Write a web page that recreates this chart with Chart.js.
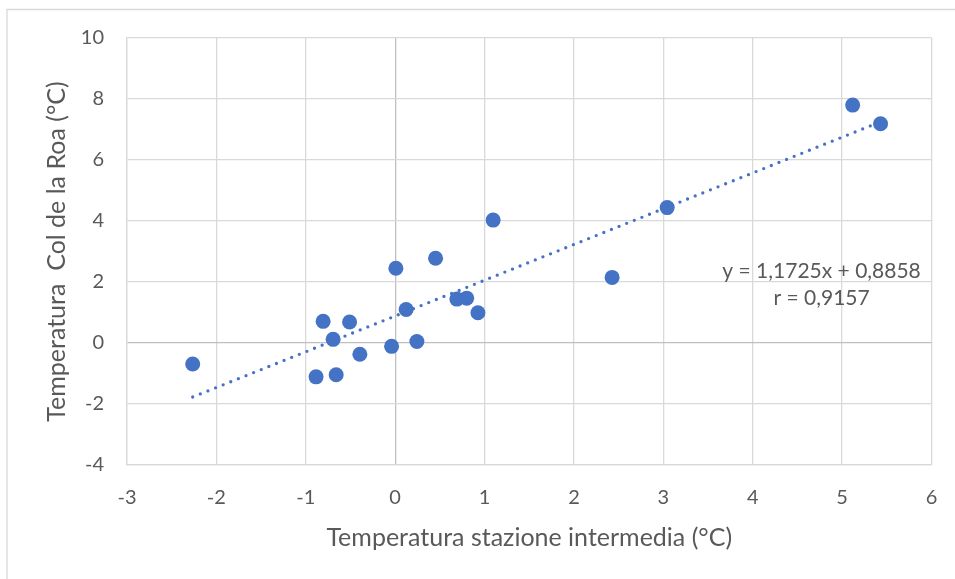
<!DOCTYPE html>
<html>
<head>
<meta charset="utf-8">
<script src="https://cdn.jsdelivr.net/npm/chart.js@4.4.1/dist/chart.umd.min.js"></script>
<style>
  html, body { margin: 0; padding: 0; background: #ffffff; }
  #wrap { width: 955px; height: 579px; position: relative; }
</style>
</head>
<body>
<div id="wrap"><canvas id="c" width="955" height="579"></canvas></div>
<script>
// Temperature at the intermediate station (x) vs. Col de la Roa (y), °C
const stazioneIntermedia = [-2.265, -0.885, -0.806, -0.694, -0.66, -0.51, -0.395, -0.04, 0.008, 0.123,
                            0.243, 0.452, 0.69, 0.80, 0.926, 1.096, 2.427, 3.043, 5.118, 5.43];
const colDeLaRoa         = [-0.69, -1.11, 0.71, 0.12, -1.04, 0.69, -0.37, -0.11, 2.45, 1.10,
                            0.05, 2.78, 1.44, 1.47, 0.99, 4.03, 2.15, 4.44, 7.80, 7.19];

// Linear trend line and correlation
const trendSlope = 1.1725;
const trendIntercept = 0.8858;
const trendR = 0.9157;

// Axis ranges and tick steps
const xRange = [-3, 6];
const yRange = [-4, 10];
const xStep = 1;
const yStep = 2;

const xTitle = 'Temperatura stazione intermedia (°C)';
const yTitle = 'Temperatura  Col de la Roa (°C)';

// Where the equation box sits, in data units
const equationAnchor = [4.77, 2.35];

const FONT = 'Lato, "Open Sans", sans-serif';
const TEXT = '#595959';
const BLUE = '#4472C4';

const points = stazioneIntermedia.map((x, i) => ({ x: x, y: colDeLaRoa[i] }));
const xMin = Math.min(...stazioneIntermedia);
const xMax = Math.max(...stazioneIntermedia);
const trend = [xMin, xMax].map(x => ({ x: x, y: trendSlope * x + trendIntercept }));

const fmt = v => v.toFixed(4).replace('.', ',');
const equationLines = [
  'y = ' + fmt(trendSlope) + 'x + ' + fmt(trendIntercept),
  'r = ' + fmt(trendR)
];

// Outer frame: a thin top and left edge
const framePlugin = {
  id: 'frame',
  beforeDraw(chart) {
    const ctx = chart.ctx;
    ctx.save();
    ctx.strokeStyle = '#d9d9d9';
    ctx.lineWidth = 1.3;
    ctx.beginPath();
    ctx.moveTo(7, 579);
    ctx.lineTo(7, 9.5);
    ctx.lineTo(955, 9.5);
    ctx.stroke();
    ctx.restore();
  }
};

// Trend-line equation text
const equationPlugin = {
  id: 'equation',
  afterDatasetsDraw(chart) {
    const ctx = chart.ctx;
    const cx = chart.scales.x.getPixelForValue(equationAnchor[0]);
    const cy = chart.scales.y.getPixelForValue(equationAnchor[1]);
    ctx.save();
    ctx.fillStyle = TEXT;
    ctx.font = '21px ' + FONT;
    ctx.textAlign = 'center';
    ctx.textBaseline = 'middle';
    equationLines.forEach((line, i) => ctx.fillText(line, cx, cy + i * 27));
    ctx.restore();
  }
};

const gridColor = ctx => (ctx.tick && ctx.tick.value === 0) ? '#bfbfbf' : '#d9d9d9';

new Chart(document.getElementById('c'), {
  type: 'scatter',
  data: {
    datasets: [
      {
        data: points,
        backgroundColor: BLUE,
        borderColor: BLUE,
        borderWidth: 0,
        pointRadius: 7.5,
        pointHoverRadius: 7.5
      },
      {
        type: 'line',
        data: trend,
        showLine: true,
        borderColor: BLUE,
        borderWidth: 3.3,
        borderDash: [0, 8.2],
        borderCapStyle: 'round',
        pointRadius: 0,
        fill: false,
        tension: 0
      }
    ]
  },
  options: {
    responsive: false,
    animation: false,
    devicePixelRatio: 1,
    layout: { padding: { top: 38, right: 23.5, left: 0, bottom: 0 } },
    plugins: { legend: { display: false }, tooltip: { enabled: false } },
    scales: {
      x: {
        type: 'linear',
        min: xRange[0], max: xRange[1],
        ticks: { stepSize: xStep, padding: 21, color: TEXT, font: { family: FONT, size: 20 },
                 callback: v => String(v) },
        grid: { color: gridColor, lineWidth: 1.3, drawTicks: false },
        border: { display: true, color: '#d9d9d9', width: 1.3 },
        title: { display: true, text: xTitle, color: TEXT, font: { family: FONT, size: 25 },
                 padding: { top: 0, bottom: 26 } },
        afterFit: s => { s.height = 114; s.paddingLeft = 0; s.paddingRight = 0; }
      },
      y: {
        type: 'linear',
        min: yRange[0], max: yRange[1],
        ticks: { stepSize: yStep, padding: 23, color: TEXT, font: { family: FONT, size: 20 },
                 callback: v => String(v) },
        grid: { color: gridColor, lineWidth: 1.3, drawTicks: false },
        border: { display: true, color: '#d9d9d9', width: 1.3 },
        title: { display: true, text: yTitle, color: TEXT, font: { family: FONT, size: 25 },
                 padding: { top: 42, bottom: 0 } },
        afterFit: s => { s.width = 127; }
      }
    }
  },
  plugins: [framePlugin, equationPlugin]
});
</script>
</body>
</html>
